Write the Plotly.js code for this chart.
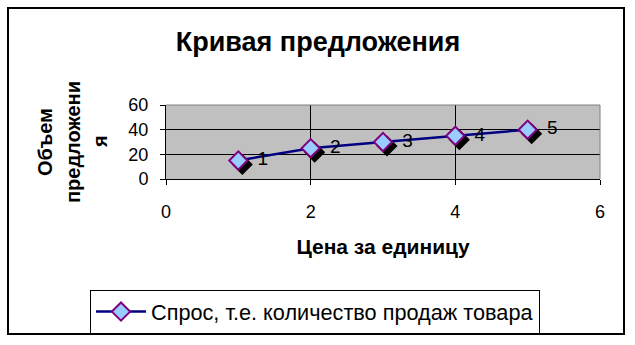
<!DOCTYPE html>
<html>
<head>
<meta charset="utf-8">
<script src="https://cdn.plot.ly/plotly-3.0.1.min.js"></script>
<style>
html,body{margin:0;padding:0;background:#fff;}
#chart{width:635px;height:345px;}
</style>
</head>
<body>
<div id="chart"></div>
<script>
// Data
const prices = [1, 2, 3, 4, 5];
const volumes = [15, 25, 30, 35, 40];
const pointLabels = ['1', '2', '3', '4', '5'];
const seriesName = 'Спрос, т.е. количество продаж товара';
const chartTitle = 'Кривая предложения';
const xTitle = 'Цена за единицу';
const yTitleLines = ['Объем', 'предложени', 'я'];
const xTicks = [0, 2, 4, 6];
const yTicks = [0, 20, 40, 60];

const FONT = 'Liberation Sans, Arial, sans-serif';
const L = 166, R = 35, T = 105, B = 166;
const W = 635, H = 345;
const plotW = W - L - R, plotH = H - T - B;
const xRange = [0, 6], yRange = [0, 60];
// shadow offset in pixels, converted to axis units
const sdx = 4 * (xRange[1] - xRange[0]) / plotW;
const sdy = 4 * (yRange[1] - yRange[0]) / plotH;

const px2paperX = p => (p - L) / plotW;
const px2paperY = p => 1 - (p - T) / plotH;

const shadow = {
  x: prices, y: volumes, xaxis: 'x', yaxis: 'y',
  type: 'scatter', mode: 'markers', showlegend: false, hoverinfo: 'skip',
  marker: {symbol: 'diamond', size: 14, color: '#000000', line: {width: 2, color: '#000000'}}
};
const main = {
  x: prices, y: volumes, xaxis: 'x2', yaxis: 'y2',
  type: 'scatter', mode: 'lines+markers+text', name: seriesName,
  text: pointLabels.map(s => '\u2002' + s), textposition: 'middle right',
  textfont: {family: FONT, size: 19, color: '#000000'},
  line: {color: '#000080', width: 2.5},
  marker: {symbol: 'diamond', size: 14, color: '#99ccff', line: {width: 2, color: '#800080'}}
};

const annotations = yTitleLines.map((t, i) => ({
  text: '<b>' + t + '</b>', xref: 'paper', yref: 'paper',
  x: px2paperX([45, 73, 100][i]), y: 0.5, xanchor: 'center', yanchor: 'middle',
  textangle: -90, showarrow: false, font: {family: FONT, size: 20, color: '#000'}
}));

const layout = {
  width: W, height: H,
  margin: {l: L, r: R, t: T, b: B, autoexpand: false},
  paper_bgcolor: '#ffffff', plot_bgcolor: '#c0c0c0',
  font: {family: FONT, color: '#000'},
  title: {text: '<b>' + chartTitle + '</b>', font: {family: FONT, size: 27, color: '#000'},
          x: 318 / W, xanchor: 'center', xref: 'container', y: 1 - 42 / H, yanchor: 'middle', yref: 'container'},
  xaxis: {range: [xRange[0] - sdx, xRange[1] - sdx], visible: false, fixedrange: true},
  yaxis: {range: [yRange[0] + sdy, yRange[1] + sdy], visible: false, fixedrange: true},
  xaxis2: {overlaying: 'x', anchor: 'y2', side: 'bottom', range: xRange,
    tickvals: xTicks, ticktext: xTicks.map(String), ticks: 'outside', ticklen: 5, tickcolor: '#000',
    ticklabelstandoff: 11,
    showgrid: true, gridcolor: '#000', gridwidth: 1, zeroline: false,
    showline: true, linecolor: '#000', linewidth: 1,
    tickfont: {family: FONT, size: 18, color: '#000'},
    title: {text: '<b>' + xTitle + '</b>', font: {family: FONT, size: 21, color: '#000'}, standoff: 18}},
  yaxis2: {overlaying: 'y', anchor: 'x2', side: 'left', range: yRange,
    tickvals: yTicks, ticktext: yTicks.map(String), ticks: 'outside', ticklen: 5, tickcolor: '#000',
    ticklabelstandoff: 8,
    showgrid: true, gridcolor: '#000', gridwidth: 1, zeroline: false,
    showline: true, linecolor: '#000', linewidth: 1,
    tickfont: {family: FONT, size: 18, color: '#000'}},
  showlegend: true,
  legend: {xref: 'paper', yref: 'paper', x: px2paperX(90), y: px2paperY(290), xanchor: 'left', yanchor: 'top',
    orientation: 'h',
    bgcolor: '#fff', bordercolor: '#000', borderwidth: 1, itemwidth: 50,
    font: {family: FONT, size: 21.7, color: '#000'}},
  annotations: annotations,
  shapes: [
    {type: 'line', xref: 'paper', yref: 'paper', x0: 0, x1: 1, y0: 1, y1: 1, line: {color: '#808080', width: 1}, layer: 'above'},
    {type: 'line', xref: 'paper', yref: 'paper', x0: 1, x1: 1, y0: 0, y1: 1, line: {color: '#808080', width: 1}, layer: 'above'},
    {type: 'rect', xref: 'paper', yref: 'paper', x0: px2paperX(8), x1: px2paperX(624), y0: px2paperY(8), y1: px2paperY(334),
     line: {color: '#000', width: 2}, fillcolor: 'rgba(0,0,0,0)', layer: 'above'}
  ]
};

Plotly.newPlot('chart', [shadow, main], layout, {displayModeBar: false, staticPlot: true});
</script>
</body>
</html>
